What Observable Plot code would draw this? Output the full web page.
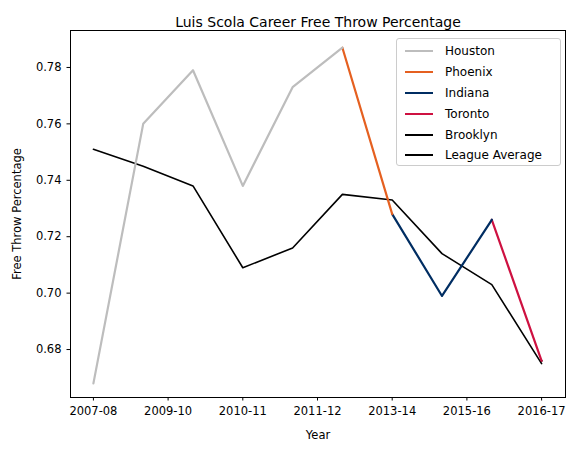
<!DOCTYPE html>
<html><head><meta charset="utf-8">
<script src="https://cdn.jsdelivr.net/npm/d3@7"></script>
<script src="https://cdn.jsdelivr.net/npm/@observablehq/plot@0.6"></script>
<style>
body{margin:0;background:#fff;font-family:"DejaVu Sans",sans-serif}
#wrap{position:relative;width:582px;height:453px}
#legend{position:absolute;left:396px;top:38px;width:165px;height:128px;border:1px solid #ccc;border-radius:3px;background:rgba(255,255,255,0.8);font-size:12px;padding:2px 0 0 0;box-sizing:border-box}
#legend div{display:flex;align-items:center;height:20.8px}
#legend span.sw{display:inline-block;width:28px;height:0;margin:0 12px 0 8px;border-top:2px solid}
</style></head><body><div id="wrap"><div id="legend"></div></div>
<script>
const seasons = ["2007-08","2008-09","2009-10","2010-11","2011-12","2012-13","2013-14","2014-15","2015-16","2016-17"];
const tickLabels = ["2007-08","2009-10","2010-11","2011-12","2013-14","2015-16","2016-17"];
const tickPos = [0,1.5,3,4.5,6,7.5,9];
const houston = [[0,0.668],[1,0.760],[2,0.779],[3,0.738],[4,0.773],[5,0.787]];
const phoenix = [[5,0.787],[6,0.728]];
const indiana = [[6,0.728],[7,0.699],[8,0.726]];
const toronto = [[8,0.726],[9,0.676]];
const brooklyn = [[9,0.676]];
const league = [[0,0.751],[1,0.745],[2,0.738],[3,0.709],[4,0.716],[5,0.735],[6,0.733],[7,0.714],[8,0.703],[9,0.675]];
const series = [
 {name:"Houston",data:houston,color:"#bdbdbd",w:2.2},
 {name:"Phoenix",data:phoenix,color:"#e56020",w:2.2},
 {name:"Indiana",data:indiana,color:"#002d62",w:2.2},
 {name:"Toronto",data:toronto,color:"#ce1141",w:2.2},
 {name:"Brooklyn",data:brooklyn,color:"#000000",w:2.2},
 {name:"League Average",data:league,color:"#000000",w:1.6}
];
const chart = Plot.plot({
 width:582,height:453,marginTop:30,marginLeft:70,marginRight:17,marginBottom:56,
 style:{fontFamily:"DejaVu Sans",fontSize:"10px",color:"#000",background:"#fff"},
 x:{domain:[-0.46,9.48],ticks:tickPos,tickFormat:(d,i)=>tickLabels[tickPos.indexOf(d)],label:"Year",labelAnchor:"center",labelArrow:"none",tickSize:3.5,labelOffset:41},
 y:{domain:[0.663,0.7931],ticks:d3.range(0.68,0.7801,0.02),tickFormat:".2f",label:"Free Throw Percentage",labelAnchor:"center",labelArrow:"none",tickSize:3.5,labelOffset:58},
 marks:[
  Plot.frame({stroke:"#000"}),
  ...series.slice().reverse().map(s=>Plot.line(s.data,{x:d=>d[0],y:d=>d[1],stroke:s.color,strokeWidth:s.w})),
  Plot.text(["Luis Scola Career Free Throw Percentage"],{frameAnchor:"top",dy:-13,fontSize:14,fill:"#000"})
 ]
});
chart.querySelectorAll('[aria-label="x-axis label"] text, [aria-label="y-axis label"] text').forEach(t=>t.style.fontSize="11.5px");
chart.querySelectorAll('[aria-label$="tick label"]').forEach(g=>g.style.fontSize="11.5px");
document.getElementById("wrap").prepend(chart);
const lg=document.getElementById("legend");
series.forEach(s=>{const d=document.createElement("div");d.innerHTML=`<span class="sw" style="border-color:${s.color}"></span>${s.name}`;lg.appendChild(d);});
</script></body></html>
